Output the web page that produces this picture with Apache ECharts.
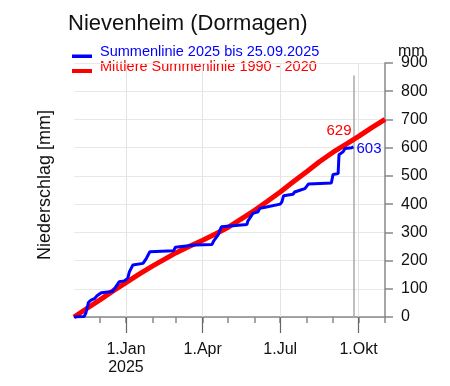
<!DOCTYPE html>
<html><head><meta charset="utf-8">
<script src="https://cdn.jsdelivr.net/npm/echarts@6/dist/echarts.min.js"></script>
<style>html,body{margin:0;padding:0;background:#fff}#c{width:450px;height:386px}</style>
</head><body><div id="c"></div>
<script>
const titleText = 'Nievenheim (Dormagen)';
const legendBlue = 'Summenlinie 2025 bis 25.09.2025';
const legendRed = 'Mittlere Summenlinie 1990 - 2020';
const yAxisTitle = 'Niederschlag [mm]';
const yUnit = 'mm';

const xStart = '2024-11-01';
const xEnd = '2025-11-01';
const yMin = 0, yMax = 900, yStep = 100;

const blueDates = ['2024-11-01','2024-11-13','2024-11-15','2024-11-18','2024-11-21','2024-11-25','2024-11-28',
  '2024-12-03','2024-12-16','2024-12-20','2024-12-24','2024-12-30','2025-01-03','2025-01-05','2025-01-09',
  '2025-01-21','2025-01-25','2025-01-29','2025-02-26','2025-02-28','2025-03-23','2025-04-12','2025-04-14',
  '2025-04-19','2025-04-23','2025-04-25','2025-05-23','2025-05-24','2025-05-30','2025-06-05','2025-06-07',
  '2025-06-15','2025-06-17','2025-07-01','2025-07-03','2025-07-05','2025-07-16','2025-07-18','2025-07-24',
  '2025-07-30','2025-08-03','2025-08-30','2025-09-01','2025-09-07','2025-09-08','2025-09-13','2025-09-15',
  '2025-09-23','2025-09-25'];
const blueValues = [0,2,15,52,60,65,75,
  86,90,107,125,128,137,160,184,
  190,208,231,235,247,255,257,270,
  290,320,325,328,340,367,373,385,
  390,396,400,408,430,435,443,449,
  455,471,475,505,508,575,586,597,
  600,603];

const redDates = ['2024-11-01','2024-11-16','2024-12-01','2024-12-16','2025-01-01','2025-01-16','2025-02-01',
  '2025-02-15','2025-03-01','2025-03-16','2025-04-01','2025-04-16','2025-05-01','2025-05-16','2025-06-01',
  '2025-06-16','2025-07-01','2025-07-16','2025-08-01','2025-08-16','2025-09-01','2025-09-16','2025-10-01',
  '2025-10-16','2025-11-01'];
const redValues = [0,30,60,91,122,151,180,
  204,228,250,272,294,318,347,378,
  410,443,478,515,550,584,612,640,
  670,700];

const monthTickDates = ['2024-12-01','2025-01-01','2025-02-01','2025-03-01','2025-04-01','2025-05-01','2025-06-01',
  '2025-07-01','2025-08-01','2025-09-01','2025-10-01','2025-11-01'];
const majorTickDates = ['2025-01-01','2025-04-01','2025-07-01','2025-10-01'];
const majorTickLabels = ['1.Jan\n2025','1.Apr','1.Jul','1.Okt'];

const cutoffDate = '2025-09-25';
const cutoffLineTop = 856;
const redAtCutoff = 629;

const T = s => Date.UTC(+s.slice(0, 4), +s.slice(5, 7) - 1, +s.slice(8, 10));
const blueData = blueDates.map((d, i) => [T(d), blueValues[i]]);
const redData = redDates.map((d, i) => [T(d), redValues[i]]);
const majorTimes = majorTickDates.map(T);
const monthTimes = monthTickDates.map(T);

const FONT = '"Liberation Sans", Arial, Helvetica, sans-serif';
const chart = echarts.init(document.getElementById('c'), null, {renderer: 'canvas'});

const xBase = {
  type: 'value', min: T(xStart), max: T(xEnd), position: 'bottom',
  splitLine: {show: false}
};

chart.setOption({
  animation: false,
  backgroundColor: '#fff',
  grid: {left: 74, top: 63, width: 311, height: 254},
  xAxis: [
    Object.assign({}, xBase, {
      axisLine: {show: true, lineStyle: {color: '#888', width: 1.5}},
      axisTick: {show: true, length: 6, customValues: monthTimes, lineStyle: {color: '#888', width: 1.5}},
      axisLabel: {show: false}
    }),
    Object.assign({}, xBase, {
      axisLine: {show: false},
      axisTick: {show: true, length: 16, customValues: majorTimes, lineStyle: {color: '#666', width: 1.2}},
      axisLabel: {
        show: true, customValues: majorTimes, margin: 24, fontSize: 16, lineHeight: 18,
        color: '#111', fontFamily: FONT, align: 'center', verticalAlign: 'top',
        formatter: function (v) {
          let best = 0, bd = Infinity;
          majorTimes.forEach((t, i) => { const d = Math.abs(t - v); if (d < bd) { bd = d; best = i; } });
          return majorTickLabels[best];
        }
      }
    })
  ],
  yAxis: {
    type: 'value', position: 'right', min: yMin, max: yMax, interval: yStep,
    axisLine: {show: true, lineStyle: {color: '#888', width: 1.5}},
    axisTick: {show: true, inside: false, length: 8, lineStyle: {color: '#888', width: 1.5}},
    axisLabel: {show: true, margin: 16, fontSize: 16, color: '#111', fontFamily: FONT},
    splitLine: {show: true, lineStyle: {color: '#e8e8e8', width: 1}}
  },
  series: [
    {
      type: 'line', name: legendRed, data: redData, showSymbol: false, symbol: 'none',
      lineStyle: {color: '#ff0000', width: 5}, z: 2,
      markLine: {
        silent: true, symbol: 'none', z: 1, label: {show: false},
        lineStyle: {color: '#e4e4e4', width: 1, type: 'solid'},
        data: majorTimes.map(t => ({xAxis: t})).concat([
          [{coord: [T(cutoffDate), yMin], lineStyle: {color: '#a8a8a8', width: 1.5}},
           {coord: [T(cutoffDate), cutoffLineTop]}]
        ])
      },
      markPoint: {
        symbol: 'circle', symbolSize: 0,
        data: [{coord: [T(cutoffDate), redAtCutoff], value: redAtCutoff}],
        label: {show: true, position: 'left', distance: 2, offset: [0, -9], color: '#ff0000',
          fontSize: 15, fontFamily: FONT, formatter: p => String(p.value)}
      }
    },
    {
      type: 'line', name: legendBlue, data: blueData, showSymbol: false, symbol: 'none',
      lineStyle: {color: '#0000ff', width: 3}, z: 3,
      endLabel: {show: true, distance: 3, offset: [0, 2.5], color: '#0000ff', fontSize: 15, fontFamily: FONT,
        formatter: p => String(p.value[1])}
    }
  ],
  graphic: [
    {type: 'text', x: 68, y: 24, style: {text: titleText, fill: '#111', font: '22px ' + FONT, verticalAlign: 'middle'}},
    {type: 'rect', x: 72, y: 54.5, shape: {width: 20, height: 3.5}, style: {fill: '#0000ff'}},
    {type: 'rect', x: 72, y: 69, shape: {width: 20, height: 4}, style: {fill: '#ff0000'}},
    {type: 'text', x: 100, y: 52, style: {text: legendBlue, fill: '#0000ff', font: '14.5px ' + FONT, verticalAlign: 'middle'}},
    {type: 'text', x: 100, y: 67, style: {text: legendRed, fill: '#ff0000', font: '14.5px ' + FONT, verticalAlign: 'middle'}},
    {type: 'text', x: 398, y: 51.5, style: {text: yUnit, fill: '#111', font: '16px ' + FONT, verticalAlign: 'middle'}},
    {type: 'text', x: 45, y: 185, rotation: Math.PI / 2,
      style: {text: yAxisTitle, fill: '#111', font: '18px ' + FONT, align: 'center', verticalAlign: 'middle'}}
  ]
});
</script>
</body></html>
